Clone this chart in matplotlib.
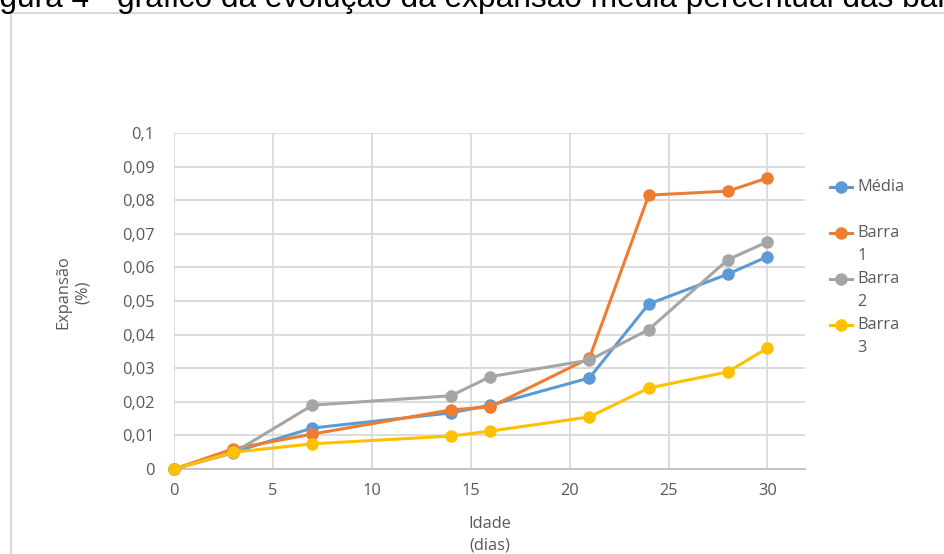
import matplotlib
matplotlib.use("Agg")
import matplotlib.pyplot as plt
from matplotlib.patches import Rectangle
from matplotlib.lines import Line2D

# Data
dias = [0, 3, 7, 14, 16, 21, 24, 28, 30]
media = [0.0, 0.0050, 0.0122, 0.0167, 0.0190, 0.0271, 0.0491, 0.0580, 0.0632]
barra1 = [0.0, 0.0060, 0.0104, 0.0176, 0.0185, 0.0330, 0.0815, 0.0827, 0.0866]
barra2 = [0.0, 0.0048, 0.0190, 0.0218, 0.0275, 0.0324, 0.0415, 0.0623, 0.0676]
barra3 = [0.0, 0.0050, 0.0075, 0.0098, 0.0113, 0.0155, 0.0241, 0.0289, 0.0360]
series_names = ["Média", "Barra\n1", "Barra\n2", "Barra\n3"]
series_vals = [media, barra1, barra2, barra3]
colors = ["#5B9BD5", "#ED7D31", "#A5A5A5", "#FFC000"]
yticks = [0, 0.01, 0.02, 0.03, 0.04, 0.05, 0.06, 0.07, 0.08, 0.09, 0.1]
ytick_labels = ["0", "0,01", "0,02", "0,03", "0,04", "0,05", "0,06", "0,07", "0,08", "0,09", "0,1"]
xticks = [0, 5, 10, 15, 20, 25, 30]
title = "Figura 4 - gráfico da evolução da expansão média percentual das barras"

W, H = 944, 554
FS = 11.8
fig = plt.figure(figsize=(W / 100, H / 100), dpi=100)
fig.patch.set_facecolor("white")

# cropped caption at the top (cut off in the reference as well)
fig.text(-27 / W, 1 - 7 / H, title, fontsize=22.8, family="Liberation Sans",
         color="black", ha="left", va="baseline")

# chart area border
fig.patches.append(Rectangle((11 / W, -0.05), 1.2, 1 - 13 / H + 0.05,
                             transform=fig.transFigure, fill=False,
                             edgecolor="#d9d9d9", linewidth=1.5))

L, R, B, T = 174, 805, 469, 133
ax = fig.add_axes([L / W, 1 - B / H, (R - L) / W, (B - T) / H])
ax.set_xlim(0, 31.9)
ax.set_ylim(0, 0.1)
ax.set_xticks(xticks)
ax.set_yticks(yticks)
ax.set_yticklabels(ytick_labels)
ax.grid(True, color="#d9d9d9", linewidth=1.3)
ax.set_axisbelow(True)
for s in ["top", "right", "left"]:
    ax.spines[s].set_visible(False)
ax.spines["bottom"].set_color("#bfbfbf")
ax.spines["bottom"].set_linewidth(1.3)
ax.tick_params(length=0, colors="#595959", labelsize=FS)
ax.tick_params(axis="y", pad=14)
ax.tick_params(axis="x", pad=10)
for lab in ax.get_xticklabels() + ax.get_yticklabels():
    lab.set_family("Open Sans")

for name, vals, c in zip(series_names, series_vals, colors):
    ax.plot(dias, vals, color=c, linewidth=2.2, marker="o", markersize=8,
            clip_on=False, zorder=3)

ax.set_xlabel("Idade\n(dias)", family="Open Sans", fontsize=FS, color="#595959",
              labelpad=12, linespacing=1.5)
fig.text(73 / W, 1 - 292 / H, "Expansão\n(%)", rotation=90, family="Open Sans",
         fontsize=FS, color="#595959", ha="center", va="center",
         multialignment="center", linespacing=1.3)

# legend (manual)
for i, (name, c) in enumerate(zip(series_names, colors)):
    yp = 1 - (187 + 46 * i) / H
    fig.lines.append(Line2D([830 / W, 852 / W], [yp, yp], transform=fig.transFigure,
                            color=c, linewidth=2.2))
    fig.lines.append(Line2D([841 / W], [yp], transform=fig.transFigure, color=c,
                            marker="o", markersize=8))
    parts = name.split("\n")
    for j, p in enumerate(parts):
        fig.text(857 / W, yp - j * 23 / H, p, family="Open Sans", fontsize=FS,
                 color="#595959", ha="left", va="center")

fig.savefig("out.png", dpi=100, facecolor="white")
